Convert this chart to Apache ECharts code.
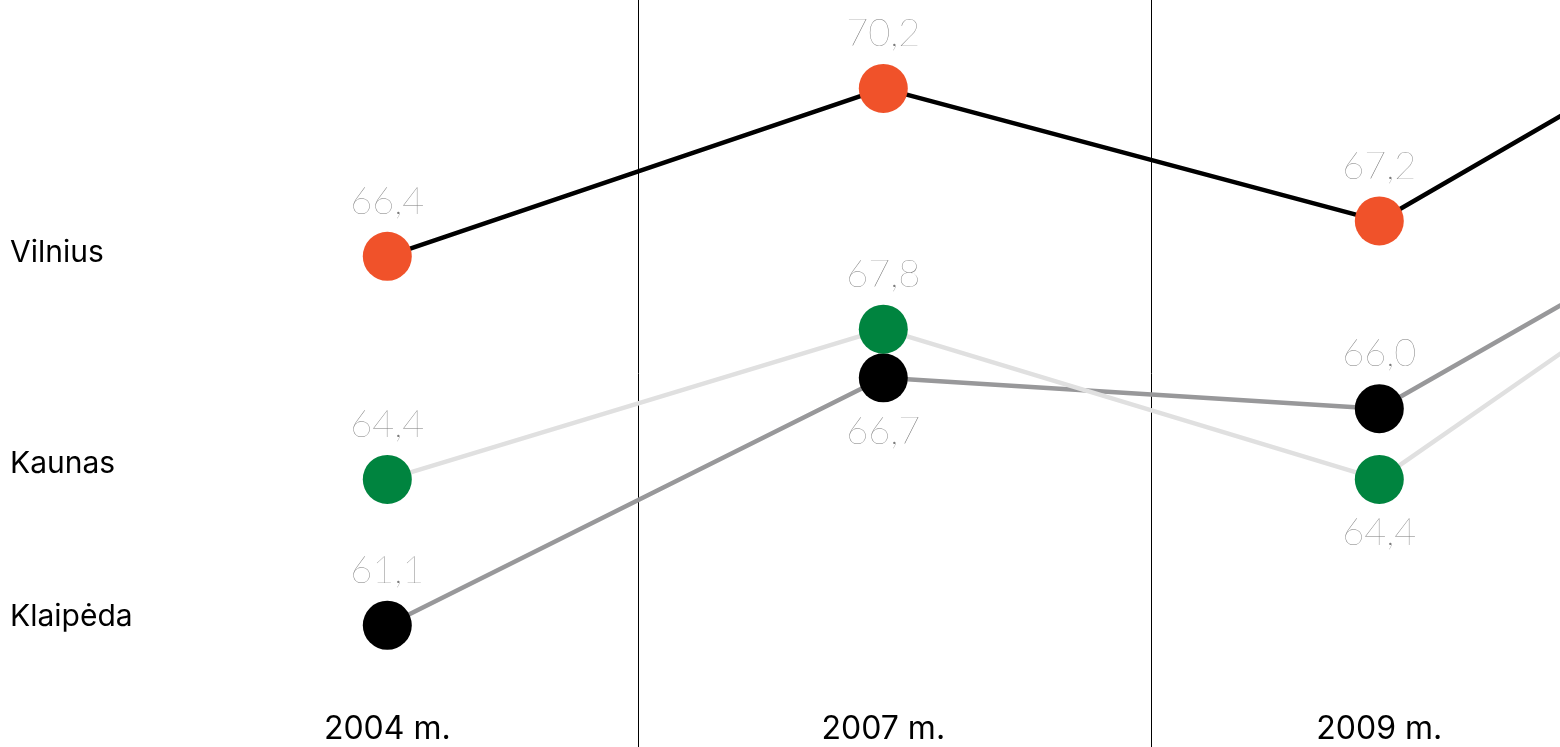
<!DOCTYPE html>
<html>
<head>
<meta charset="utf-8">
<script src="https://cdn.jsdelivr.net/npm/echarts@6/dist/echarts.min.js"></script>
<style>
  html, body { margin: 0; padding: 0; background: #fff; }
  #chart { width: 1560px; height: 747px; }
</style>
</head>
<body>
<div id="chart"></div>
<script>
// ---- data ----
const categories = ['2004 m.', '2007 m.', '2009 m.', '2011 m.'];
const vilnius = [66.4, 70.2, 67.2, 73.7];
const kaunas = [64.4, 67.8, 64.4, 72.2];
const klaipeda = [61.1, 66.7, 66.0, 72.4];
const cityNames = ['Vilnius', 'Kaunas', 'Klaipėda'];

// ---- styles ----
const styles = {
  'Vilnius':  { line: '#000000', dot: '#F0522A', yAxis: 1, below: [] },
  'Kaunas':   { line: '#E0E0E0', dot: '#00843F', yAxis: 0, below: [2] },
  'Klaipėda': { line: '#98989A', dot: '#000000', yAxis: 0, below: [1] }
};
const valuesByCity = { 'Vilnius': vilnius, 'Kaunas': kaunas, 'Klaipėda': klaipeda };

const fmt = v => v.toFixed(1).replace('.', ',');

const labelBase = {
  show: true,
  position: 'top',
  distance: 11,
  fontFamily: 'Lato',
  fontWeight: 200,
  fontSize: 38,
  color: '#7a7a7a',
  formatter: p => fmt(p.value)
};

const series = cityNames.slice().reverse().map(name => {
  const st = styles[name];
  return {
    name: name,
    type: 'line',
    xAxisIndex: 0,
    yAxisIndex: st.yAxis,
    symbol: 'circle',
    symbolSize: 49,
    lineStyle: { color: st.line, width: 4.5 },
    itemStyle: { color: st.dot },
    label: labelBase,
    emphasis: { disabled: true },
    data: valuesByCity[name].map((v, i) => st.below.includes(i)
      ? { value: v, label: { position: 'bottom', distance: 10 } }
      : v)
  };
});

const chart = echarts.init(document.getElementById('chart'), null, { renderer: 'canvas' });
chart.setOption({
  animation: false,
  backgroundColor: '#ffffff',
  grid: [
    { left: 387.3, width: 1488, top: 0, height: 707, outerBoundsMode: 'none' },
    { left: 638, width: 1026, top: 0, height: 747, outerBoundsMode: 'none' }
  ],
  xAxis: [
    {
      type: 'category', gridIndex: 0, data: categories, boundaryGap: false,
      axisLine: { show: false }, axisTick: { show: false }, splitLine: { show: false },
      axisLabel: { interval: 0, fontFamily: 'Inter', fontSize: 32, color: '#000', margin: 6 }
    },
    {
      type: 'category', gridIndex: 1, data: categories.slice(1, 3), boundaryGap: true,
      axisLine: { show: false }, axisTick: { show: false }, axisLabel: { show: false },
      splitLine: { show: true, interval: 0, lineStyle: { color: '#000', width: 1 } }
    }
  ],
  yAxis: [
    { type: 'value', gridIndex: 0, min: 59.25, max: 75.25, show: false },
    { type: 'value', gridIndex: 0, min: 56.2, max: 72.2, show: false },
    { type: 'value', gridIndex: 1, show: false }
  ],
  graphic: [
    { type: 'text', left: 10, top: 238, style: { text: cityNames[0], fontFamily: 'Inter', fontSize: 30, fill: '#000' } },
    { type: 'text', left: 10, top: 449, style: { text: cityNames[1], fontFamily: 'Inter', fontSize: 30, fill: '#000' } },
    { type: 'text', left: 10, top: 602, style: { text: cityNames[2], fontFamily: 'Inter', fontSize: 30, fill: '#000' } }
  ],
  series: series
});
</script>
</body>
</html>
